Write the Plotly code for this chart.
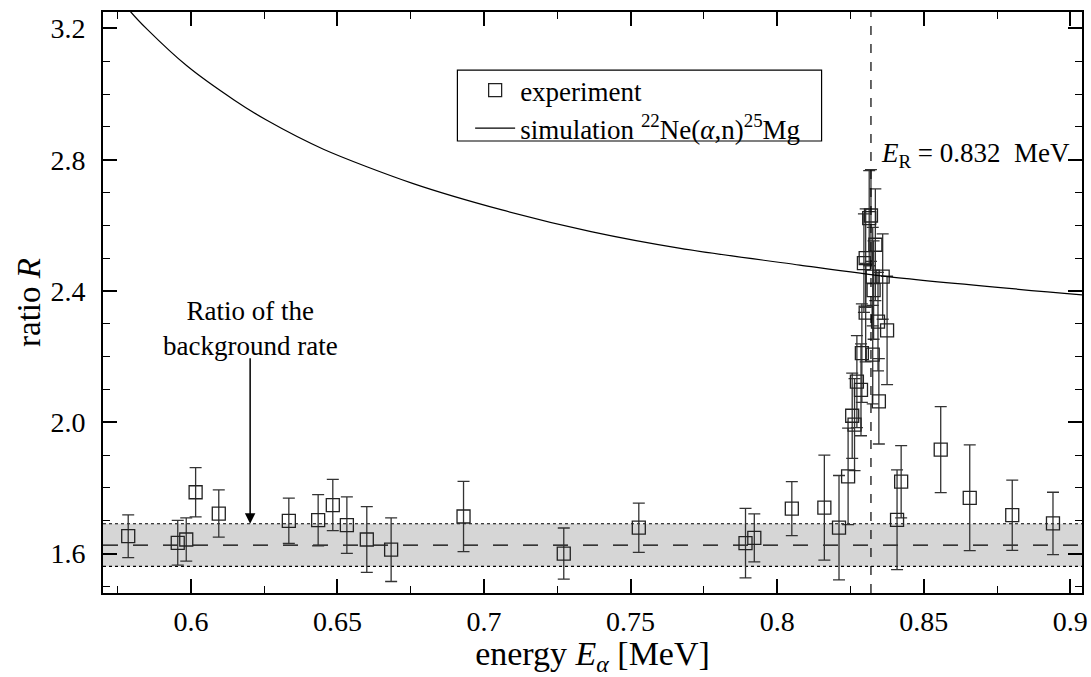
import plotly.graph_objects as go

# ---- data ----
exp_E = [0.5786, 0.5955, 0.5984, 0.6016, 0.6095, 0.6334, 0.6434, 0.6484, 0.6532, 0.6600,
         0.6683, 0.6930, 0.7272, 0.7528, 0.7892, 0.7922, 0.8050, 0.8161, 0.8211,
         0.8242, 0.8256, 0.8264, 0.8272, 0.8286, 0.8289, 0.8296, 0.8302, 0.8302, 0.8314,
         0.8320, 0.8326, 0.8329, 0.8326, 0.8335, 0.8344, 0.8347, 0.8360, 0.8375,
         0.8409, 0.8423, 0.8558, 0.8657, 0.8802, 0.8941]
exp_R = [1.653, 1.633, 1.643, 1.787, 1.722, 1.700, 1.702, 1.748, 1.687, 1.643,
         1.612, 1.713, 1.600, 1.679, 1.632, 1.648, 1.737, 1.740, 1.679,
         1.835, 2.020, 1.993, 2.124, 2.099, 2.211, 2.485, 2.500, 2.334, 2.622,
         2.630, 2.444, 2.403, 2.206, 2.541, 2.307, 2.064, 2.444, 2.280,
         1.703, 1.819, 1.917, 1.770, 1.717, 1.692]
exp_err = [0.065, 0.068, 0.066, 0.075, 0.072, 0.069, 0.078, 0.078, 0.086, 0.100,
           0.097, 0.107, 0.078, 0.075, 0.106, 0.073, 0.082, 0.160, 0.159,
           0.147, 0.130, 0.140, 0.140, 0.140, 0.150, 0.150, 0.150, 0.150, 0.145,
           0.140, 0.150, 0.150, 0.150, 0.170, 0.150, 0.130, 0.130, 0.165,
           0.152, 0.110, 0.131, 0.161, 0.107, 0.095]

sim_E = [0.5760, 0.5795, 0.5851, 0.5986, 0.6147, 0.6259, 0.6452, 0.6756, 0.7061,
         0.7365, 0.7670, 0.8077, 0.8384, 0.9040]
sim_R = [3.290, 3.250, 3.197, 3.086, 2.982, 2.920, 2.832, 2.728, 2.647,
         2.581, 2.530, 2.479, 2.443, 2.388]

bg_mean = 1.626
bg_halfwidth = 0.065
E_R = 0.832
arrow_E = 0.6202

x_range = [0.570, 0.904]
y_range = [1.48, 3.25]

FONT = "Liberation Serif"

fig = go.Figure()

fig.add_trace(go.Scatter(
    x=exp_E, y=exp_R, mode="markers", name="experiment",
    marker=dict(symbol="square-open", size=13, color="#222222", line=dict(width=1.3)),
    error_y=dict(type="data", array=exp_err, visible=True, color="#333333",
                 thickness=1.3, width=6),
))
fig.add_trace(go.Scatter(
    x=sim_E, y=sim_R, mode="lines", line_shape="spline",
    name="simulation <sup>22</sup>Ne(<i>α</i>,n)<sup>25</sup>Mg",
    line=dict(color="black", width=1.2, smoothing=0.8),
))

# background band
fig.add_shape(type="rect", xref="paper", yref="y", x0=0, x1=1,
              y0=bg_mean - bg_halfwidth, y1=bg_mean + bg_halfwidth,
              fillcolor="#d6d6d6", line=dict(width=0), layer="below")
for yv, dash in [(bg_mean - bg_halfwidth, "dot"), (bg_mean + bg_halfwidth, "dot"),
                 (bg_mean, "longdash")]:
    fig.add_shape(type="line", xref="paper", yref="y", x0=0, x1=1, y0=yv, y1=yv,
                  line=dict(color="black", width=1.2, dash=dash), layer="below")

# resonance energy line
fig.add_shape(type="line", xref="x", yref="paper", x0=E_R, x1=E_R, y0=0, y1=1,
              line=dict(color="black", width=1.2, dash="dash"))

# legend frame
fig.add_shape(type="rect", xref="paper", yref="paper", x0=0.362, x1=0.734,
              y0=0.778, y1=0.900, line=dict(color="black", width=1.2),
              fillcolor="rgba(0,0,0,0)")

fig.add_annotation(x=E_R + 0.0027, y=2.814, xref="x", yref="y", xanchor="left",
                   text="<i>E</i><sub>R</sub> = 0.832  MeV", showarrow=False,
                   font=dict(family=FONT, size=27, color="black"))

fig.add_annotation(x=arrow_E, y=2.285, xref="x", yref="y",
                   text="Ratio of the<br>background rate", showarrow=False,
                   font=dict(family=FONT, size=27, color="black"))
fig.add_annotation(x=arrow_E, y=bg_mean + bg_halfwidth, xref="x", yref="y",
                   ax=arrow_E, ay=2.20, axref="x", ayref="y", text="",
                   showarrow=True, arrowhead=2, arrowsize=1.4, arrowwidth=1.5,
                   arrowcolor="black", standoff=0)

axis_common = dict(
    showline=True, linecolor="black", linewidth=2, mirror="allticks",
    ticks="inside", ticklen=14, tickwidth=1.6, tickcolor="black",
    showgrid=False, zeroline=False, automargin=False,
    tickfont=dict(family=FONT, size=28, color="black"),
)

fig.update_xaxes(range=x_range, dtick=0.05, tick0=0,
                 minor=dict(dtick=0.025, ticks="inside", ticklen=7, tickwidth=1.4,
                            tickcolor="black", showgrid=False),
                 title=dict(text="energy <i>E</i><sub><i>α</i></sub> [MeV]",
                            font=dict(family=FONT, size=34, color="black"), standoff=22),
                 ticklabelstandoff=2, **axis_common)
fig.update_yaxes(range=y_range, dtick=0.4, tick0=0, tickformat=".1f",
                 minor=dict(dtick=0.1, ticks="inside", ticklen=7, tickwidth=1.4,
                            tickcolor="black", showgrid=False),
                 title=dict(text="ratio <i>R</i>",
                            font=dict(family=FONT, size=33, color="black"), standoff=0),
                 ticklabelstandoff=10, **axis_common)

fig.update_layout(
    width=1091, height=677,
    margin=dict(l=103, r=9, t=12, b=84),
    plot_bgcolor="white", paper_bgcolor="white",
    font=dict(family=FONT, color="black"),
    showlegend=True,
    legend=dict(x=0.375, y=0.907, xanchor="left", yanchor="top",
                borderwidth=0, bgcolor="rgba(0,0,0,0)",
                font=dict(family=FONT, size=27, color="black"),
                tracegroupgap=0, itemwidth=40),
)

fig.write_html("out.html")
